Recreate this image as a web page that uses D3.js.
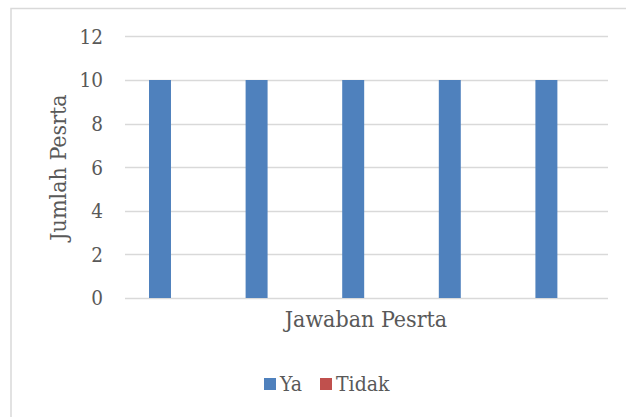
<!DOCTYPE html>
<html>
<head>
<meta charset="utf-8">
<script src="https://cdn.jsdelivr.net/npm/d3@7"></script>
<style>
  body { margin: 0; background: #fff; }
  text { font-family: "DejaVu Serif Condensed", "DejaVu Serif", serif; font-stretch: condensed; fill: #595959; }
</style>
</head>
<body>
<div id="chart"></div>
<script>
// data
const categories = ["1", "2", "3", "4", "5"];
const seriesNames = ["Ya", "Tidak"];
const ya = [10, 10, 10, 10, 10];
const tidak = [0, 0, 0, 0, 0];
const yTicks = [0, 2, 4, 6, 8, 10, 12];
const colors = ["#4f81bd", "#c0504d"];

const width = 626, height = 417;
const plot = { left: 125, right: 608, top: 36.4, bottom: 298 };

const svg = d3.select("#chart").append("svg")
    .attr("width", width)
    .attr("height", height);

// outer frame of the chart
svg.append("rect")
    .attr("x", 11).attr("y", 8.5)
    .attr("width", 640).attr("height", 440)
    .attr("fill", "none")
    .attr("stroke", "#d9d9d9")
    .attr("stroke-width", 1.5);

const x = d3.scaleBand()
    .domain(categories)
    .range([plot.left, plot.right])
    .paddingInner(0.545)
    .paddingOuter(0.2725)
    .align(0.456);

const x1 = d3.scaleBand()
    .domain(seriesNames)
    .range([0, x.bandwidth()]);

const y = d3.scaleLinear()
    .domain([0, 12])
    .range([plot.bottom, plot.top]);

// gridlines
svg.append("g")
    .selectAll("line")
    .data(yTicks)
    .enter().append("line")
    .attr("x1", plot.left).attr("x2", plot.right)
    .attr("y1", d => Math.round(y(d)) + 0.5)
    .attr("y2", d => Math.round(y(d)) + 0.5)
    .attr("stroke", "#d9d9d9")
    .attr("stroke-width", 1.5);

// y tick labels
svg.append("g")
    .selectAll("text")
    .data(yTicks)
    .enter().append("text")
    .attr("x", 103)
    .attr("y", d => y(d))
    .attr("dy", "0.36em")
    .attr("text-anchor", "end")
    .style("font-size", "20.5px")
    .text(d => d);

// bars
const tableRows = categories.map((c, i) => ({ cat: c, values: [ya[i], tidak[i]] }));
const groups = svg.append("g")
    .selectAll("g")
    .data(tableRows)
    .enter().append("g")
    .attr("transform", d => `translate(${x(d.cat)},0)`);

groups.selectAll("rect")
    .data(d => d.values.map((v, j) => ({ name: seriesNames[j], value: v, color: colors[j] })))
    .enter().append("rect")
    .attr("x", d => x1(d.name))
    .attr("y", d => y(d.value))
    .attr("width", x1.bandwidth())
    .attr("height", d => y(0) - y(d.value))
    .attr("fill", d => d.color);

// axis titles
svg.append("text")
    .attr("x", 366)
    .attr("y", 327)
    .attr("text-anchor", "middle")
    .style("font-size", "23px")
    .text("Jawaban Pesrta");

svg.append("text")
    .attr("transform", "translate(66,167.5) rotate(-90)")
    .attr("text-anchor", "middle")
    .style("font-size", "23px")
    .text("Jumlah Pesrta");

// legend
const legend = svg.append("g").attr("transform", "translate(264,391)");
const legendX = [0, 56];
seriesNames.forEach((name, i) => {
    legend.append("rect")
        .attr("x", legendX[i]).attr("y", -13)
        .attr("width", 12).attr("height", 12)
        .attr("fill", colors[i]);
    legend.append("text")
        .attr("x", legendX[i] + 16)
        .attr("y", 0)
        .style("font-size", "21px")
        .text(name);
});
</script>
</body>
</html>
